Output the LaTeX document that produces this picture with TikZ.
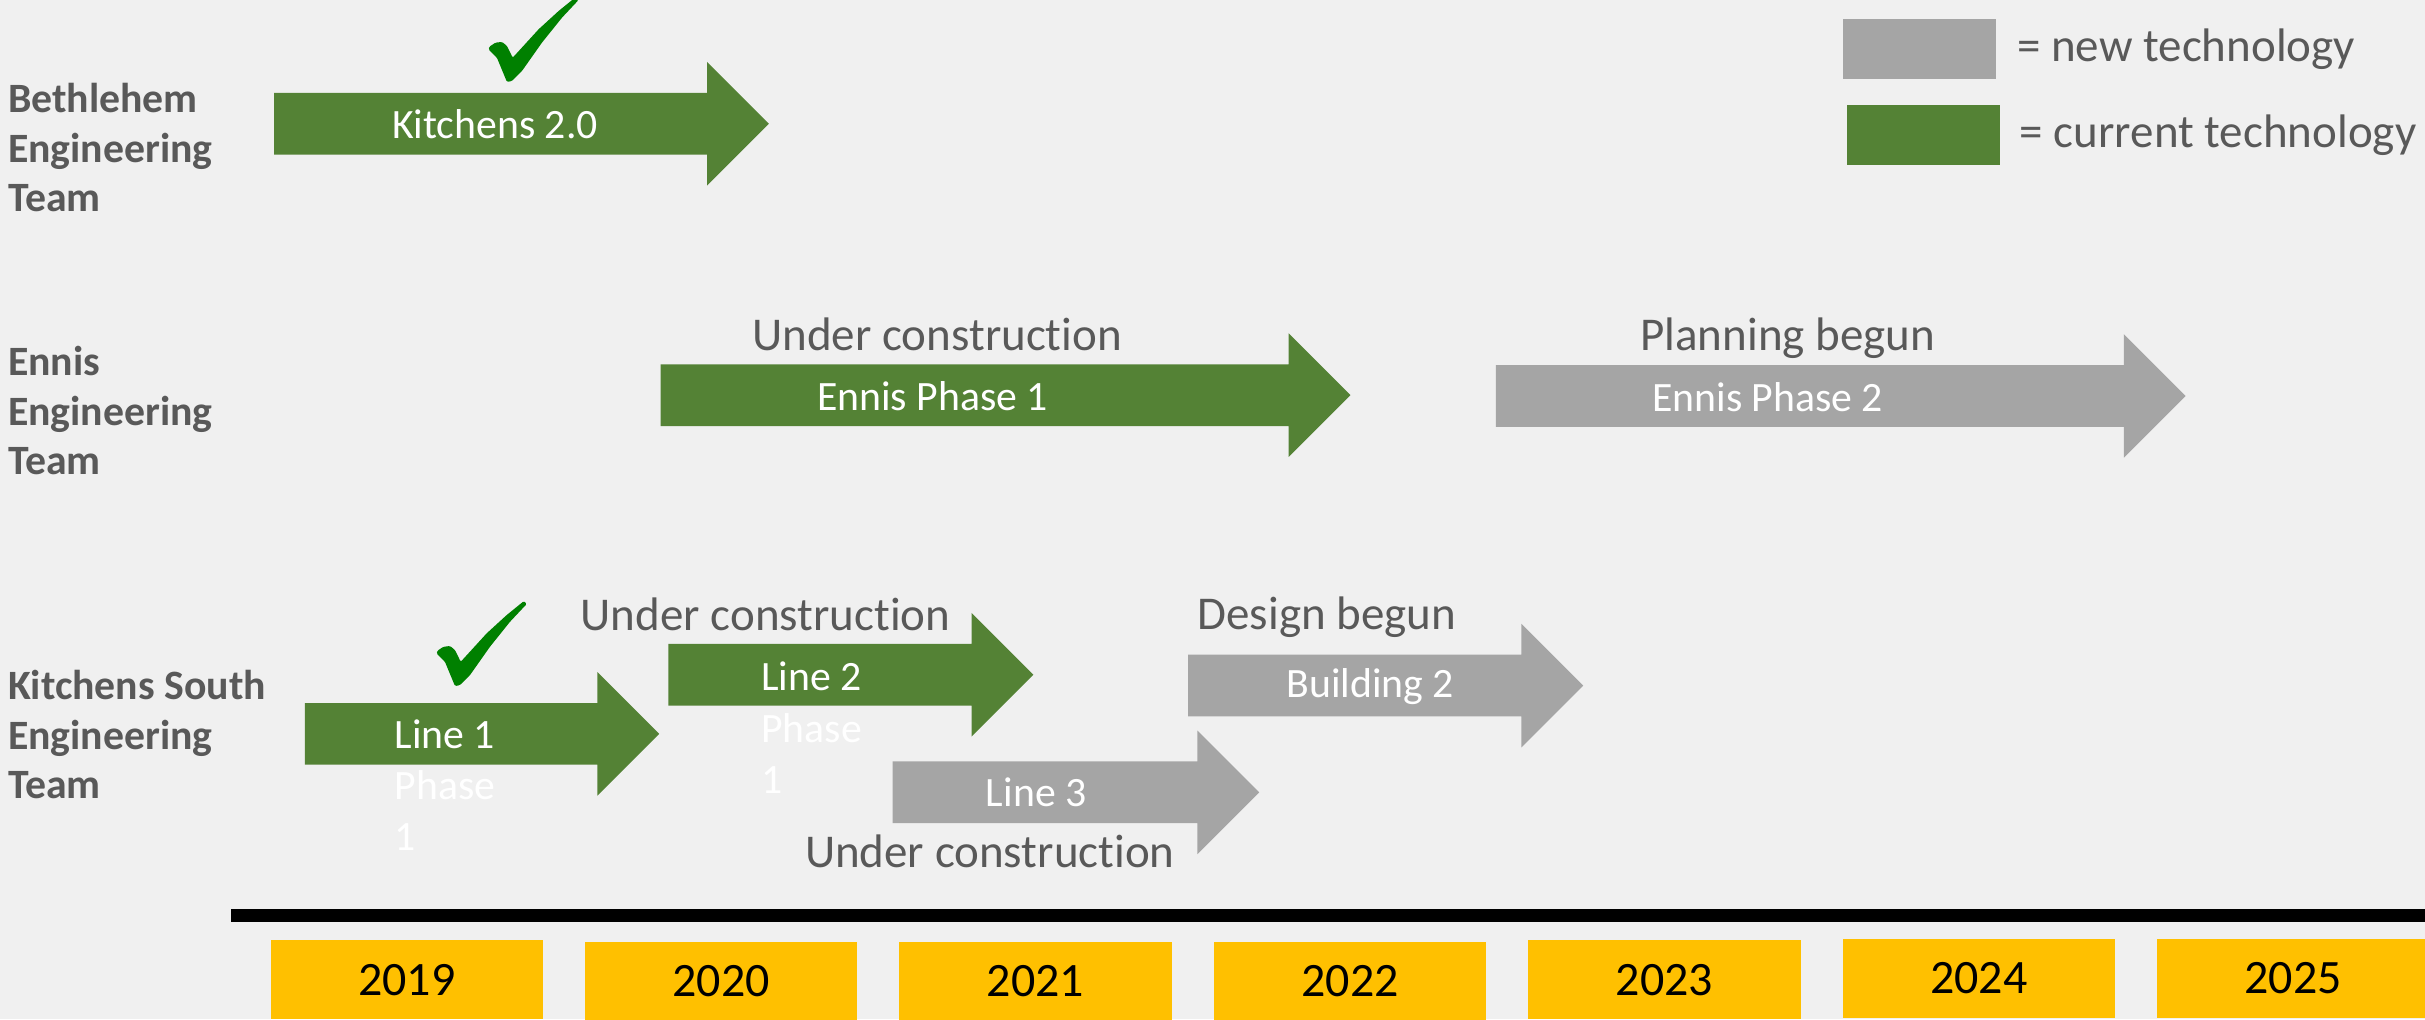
\documentclass[tikz,border=0pt]{standalone}
\usepackage{fontspec}
\setmainfont{Carlito}[Ligatures=CommonOff]
\usepackage{tikz}
\usetikzlibrary{shapes.arrows,positioning}
\definecolor{ink}{HTML}{595959}
\definecolor{paper}{HTML}{F0F0F0}
\definecolor{curgreen}{HTML}{548235}
\definecolor{newgray}{HTML}{A5A5A5}
\definecolor{gold}{HTML}{FFC000}
\definecolor{okgreen}{HTML}{008000}
\tikzset{
  flow/.style={single arrow,single arrow head extend=20pt,inner xsep=0pt,inner ysep=19.75pt,text height=0pt,text depth=0pt,anchor=tail,draw=none},
  curarrow/.style={flow,fill=curgreen},
  newarrow/.style={flow,fill=newgray},
  tag/.style={text=white,inner sep=0pt,font=\fontsize{27}{33}\selectfont},
  wrap/.style={tag,anchor=west,align=left},
  status/.style={text=ink,inner sep=0pt,font=\fontsize{30.4}{37}\selectfont},
  legendtxt/.style={status,anchor=west},
  team/.style={text=ink,inner sep=0pt,anchor=west,align=left,font=\fontsize{27}{32}\selectfont\bfseries},
  swatch/.style={minimum width=99pt,minimum height=38.7pt,inner sep=0pt},
  yearbox/.style={fill=gold,minimum width=176pt,minimum height=51pt,inner sep=0pt,font=\fontsize{31}{37}\selectfont},
  okmark/.style={fill=okgreen,rounded corners=0.8pt}
}

\begin{document}
\begin{tikzpicture}[x=1pt,y=-1pt]
  \fill[paper] (0,0) rectangle (1568,659);
  \useasboundingbox (0,0) rectangle (1568,659);

  % team names
  \node[team] (beth) at (5,95.5) {Bethlehem\\Engineering\\Team};
  \node[team] (ennis) at (5,265.5) {Ennis\\Engineering\\Team};
  \node[team] (south) at (5,475) {Kitchens South\\Engineering\\Team};

  % legend
  \node[swatch,fill=newgray] (newkey) at (1241,31.7) {};
  \node[swatch,fill=curgreen] (curkey) at (1243.5,87.3) {};
  \node[legendtxt,right=13.4pt of newkey] (newtxt) {= new technology};
  \node[legendtxt,right=12.6pt of curkey] (curtxt) {= current technology};

  % Bethlehem
  \node[curarrow,minimum height=320pt] (kit) at (177,80) {};
  \node[tag] (kittxt) at (320,80) {Kitchens 2.0};
  \fill[okmark,shift={(327.8,53)}] (0,0) -- (-6.5,-15.7) -- (-11.9,-21.1) -- (-11.4,-22.8) -- (-7.5,-25.4) -- (-3.2,-25.9) -- (0,-23.3) -- (3.7,-15.7) -- (20.5,-34.1) -- (33.4,-45.9) -- (44.6,-55) -- (46.3,-53) -- (35.6,-41.6) -- (22.6,-25.4) -- (9.7,-7.1) -- (3.2,-0.6) -- cycle;

  % Ennis
  \node[curarrow,minimum height=446pt] (ennisA) at (427,255.5) {};
  \node[tag] (ennisAtxt) at (603,256) {Ennis Phase 1};
  \node[status] (ennisAst) at (606,216) {Under construction};
  \node[newarrow,minimum height=446pt] (ennisB) at (967,256) {};
  \node[tag] (ennisBtxt) at (1143,257) {Ennis Phase 2};
  \node[status] (ennisBst) at (1156,219) {Planning begun};

  % Kitchens South
  \node[curarrow,minimum height=229pt] (lineA) at (197,474.5) {};
  \node[wrap] (lineAtxt) at (255,507.6) {Line 1\\Phase\\1};
  \fill[okmark,shift={(294.2,443.6)}] (0,0) -- (-6.5,-15.7) -- (-11.9,-21.1) -- (-11.4,-22.8) -- (-7.5,-25.4) -- (-3.2,-25.9) -- (0,-23.3) -- (3.7,-15.7) -- (20.5,-34.1) -- (33.4,-45.9) -- (44.6,-55) -- (46.3,-53) -- (35.6,-41.6) -- (22.6,-25.4) -- (9.7,-7.1) -- (3.2,-0.6) -- cycle;
  \node[curarrow,minimum height=236pt] (lineB) at (432,436.3) {};
  \node[wrap] (lineBtxt) at (492,470.5) {Line 2\\Phase\\1};
  \node[status] (lineBst) at (495,397) {Under construction};
  \node[newarrow,minimum height=255.5pt] (build) at (768,443.3) {};
  \node[tag] (buildtxt) at (886,444) {Building 2};
  \node[status] (buildst) at (858,399) {Design begun};
  \node[newarrow,minimum height=237pt] (lineC) at (577,512.3) {};
  \node[tag] (lineCtxt) at (670,512) {Line 3};
  \node[status] (lineCst) at (640,550.5) {Under construction};

  % time line
  \fill[black] (149.5,588) rectangle (1568,596);
  \node[yearbox] (y2019) at (263,633.5) {2019};
  \node[yearbox] (y2020) at (466.3,634.5) {2020};
  \node[yearbox] (y2021) at (669.6,634.5) {2021};
  \node[yearbox] (y2022) at (872.9,634.5) {2022};
  \node[yearbox] (y2023) at (1076.2,633.5) {2023};
  \node[yearbox] (y2024) at (1279.5,632.5) {2024};
  \node[yearbox] (y2025) at (1482.8,632.5) {2025};
\end{tikzpicture}
\end{document}
